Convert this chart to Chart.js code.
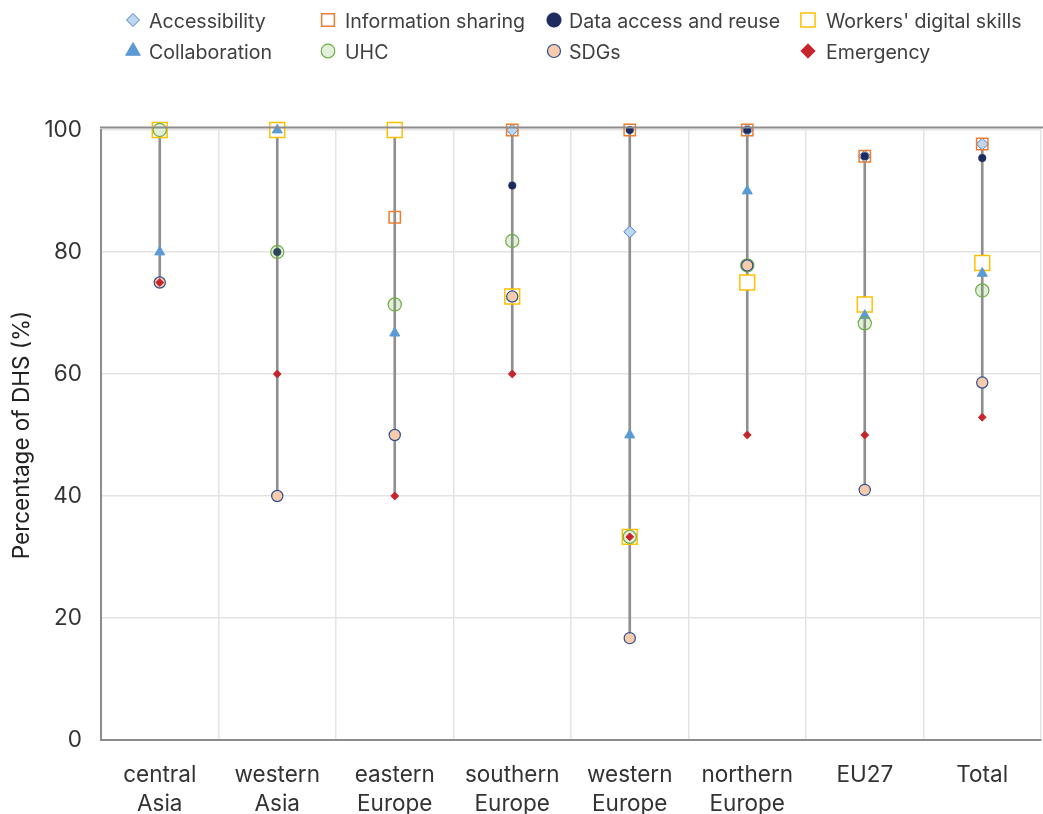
<!DOCTYPE html>
<html>
<head>
<meta charset="utf-8">
<script src="https://cdn.jsdelivr.net/npm/chart.js@4/dist/chart.umd.min.js"></script>
<style>
  html, body { margin: 0; padding: 0; background: #fff; }
  canvas { display: block; }
</style>
</head>
<body>
<canvas id="chart" width="1043" height="814"></canvas>
<script>
// Regions (multi-line category labels)
const regions = [
  ['central', 'Asia'], ['western', 'Asia'], ['eastern', 'Europe'], ['southern', 'Europe'],
  ['western', 'Europe'], ['northern', 'Europe'], ['EU27'], ['Total']
];

// Share of digital health strategies (%) addressing each topic, per region
const accessibility      = [100, 100, 100, 100, 83.3, 100, 95.7, 97.7];
const informationSharing = [100, 100, 85.7, 100, 100, 100, 95.7, 97.7];
const dataAccessReuse    = [100, 80, 100, 90.9, 100, 100, 95.7, 95.4];
const workersSkills      = [100, 100, 100, 72.7, 33.3, 75, 71.4, 78.2];
const collaboration      = [80, 100, 66.7, 72.7, 50, 90, 69.6, 76.5];
const uhc                = [100, 80, 71.4, 81.8, 33.3, 77.8, 68.3, 73.7];
const sdgs               = [75, 40, 50, 72.7, 16.7, 77.8, 41.0, 58.6];
const emergency          = [75, 60, 40, 60, 33.3, 50, 50, 52.9];

const yTicks = [0, 20, 40, 60, 80, 100];

// Marker look for each topic
const topics = [
  { label: 'Accessibility', data: accessibility, style: 'rectRot', r: 6, lr: 6.5, fill: '#bdd7ee', stroke: '#4a7dc9', bw: 1 },
  { label: 'Information sharing', data: informationSharing, style: 'rect', r: 8, lr: 9, fill: 'rgba(0,0,0,0)', stroke: '#ed7d31', bw: 1.5 },
  { label: 'Data access and reuse', data: dataAccessReuse, style: 'circle', r: 3.8, lr: 7.3, fill: '#1e2b5e', stroke: '#1e2b5e', bw: 0.5 },
  { label: "Workers' digital skills", data: workersSkills, style: 'rect', r: 10.5, lr: 10, fill: '#ffffff', stroke: '#ffc000', bw: 1.5 },
  { label: 'Collaboration', data: collaboration, style: 'triangle', r: 5.8, lr: 8.5, fill: '#5b9bd5', stroke: '#5b9bd5', bw: 1 },
  { label: 'UHC', data: uhc, style: 'circle', r: 6.6, lr: 6.8, fill: 'rgba(112,173,71,0.2)', stroke: '#70ad47', bw: 1.2 },
  { label: 'SDGs', data: sdgs, style: 'circle', r: 5.6, lr: 6.5, fill: '#f8cbad', stroke: '#2f4f8f', bw: 1.2 },
  { label: 'Emergency', data: emergency, style: 'rectRot', r: 3.9, lr: 7.2, fill: '#c7252d', stroke: '#c7252d', bw: 1 }
];

// Vertical span from the lowest to the highest topic share in each region
const ranges = regions.map((_, i) => {
  const vals = topics.map(t => t.data[i]);
  return [Math.min(...vals), Math.max(...vals)];
});

const pointSets = topics.map((t, i) => ({
  type: 'line',
  label: t.label,
  data: t.data,
  showLine: false,
  clip: false,
  order: 20 - i,               // later topics are painted over earlier ones
  pointStyle: t.style,
  pointRadius: t.r,
  pointHoverRadius: t.r,
  pointBackgroundColor: t.fill,
  pointBorderColor: t.stroke,
  pointBorderWidth: t.bw,
  backgroundColor: t.fill,
  borderColor: t.stroke
}));

const FONT = 'Inter, "Noto Sans", "DejaVu Sans", sans-serif';

// Two-row legend laid out on a fixed column grid
const legendGrid = {
  id: 'legendGrid',
  afterDraw(chart) {
    const ctx = chart.ctx;
    const iconX = [133, 328, 554, 808];
    const textX = [149, 345, 569, 826];
    const iconY = [20, 51];
    const textY = [22, 53];
    ctx.save();
    topics.forEach((t, i) => {
      const row = Math.floor(i / 4), col = i % 4;
      ctx.fillStyle = t.fill;
      ctx.strokeStyle = t.stroke;
      ctx.lineWidth = t.bw;
      Chart.helpers.drawPoint(ctx, { pointStyle: t.style, radius: t.lr, rotation: 0, borderWidth: t.bw },
        iconX[col], iconY[row]);
      ctx.fillStyle = '#404040';
      ctx.font = '19.6px ' + FONT;
      ctx.textAlign = 'left';
      ctx.textBaseline = 'middle';
      ctx.fillText(t.label, textX[col], textY[row]);
    });
    ctx.restore();
  }
};

// Upper frame line of the plot area
const topFrame = {
  id: 'topFrame',
  afterDraw(chart) {
    const { ctx, chartArea } = chart;
    ctx.save();
    ctx.strokeStyle = '#8c8c8c';
    ctx.lineWidth = 2;
    ctx.beginPath();
    ctx.moveTo(chartArea.left - 1, chartArea.top - 2.5);
    ctx.lineTo(chart.width, chartArea.top - 2.5);
    ctx.stroke();
    ctx.restore();
  }
};

new Chart(document.getElementById('chart'), {
  type: 'bar',
  data: {
    labels: regions,
    datasets: [
      {
        type: 'bar',
        label: 'range',
        data: ranges,
        order: 100,
        barThickness: 2,
        backgroundColor: '#8f8f8f',
        borderWidth: 0
      },
      ...pointSets
    ]
  },
  options: {
    responsive: false,
    animation: false,
    events: [],
    layout: { autoPadding: false, padding: { top: 130, right: 2, bottom: 0, left: 0 } },
    plugins: {
      legend: { display: false },
      tooltip: { enabled: false }
    },
    scales: {
      x: {
        type: 'category',
        offset: true,
        grid: { offset: true, color: '#e3e3e3', lineWidth: 1.5, drawTicks: false },
        border: { color: '#8c8c8c', width: 2 },
        ticks: {
          color: '#333',
          padding: 21,
          maxRotation: 0,
          font: { family: FONT, size: 22.5, lineHeight: 1.29 }
        },
        afterFit(scale) {
          scale.height = 74;
          scale.paddingLeft = 0;
          scale.paddingRight = 0;
        }
      },
      y: {
        min: 0,
        max: 100,
        afterBuildTicks(scale) { scale.ticks = yTicks.map(v => ({ value: v })); },
        grid: { color: '#e3e3e3', lineWidth: 1.5, drawTicks: false },
        border: { color: '#8c8c8c', width: 2 },
        ticks: {
          color: '#333',
          padding: 19,
          font: { family: FONT, size: 22.5 }
        },
        title: {
          display: true,
          text: 'Percentage of DHS (%)',
          color: '#222',
          padding: { top: 9, bottom: 0 },
          font: { family: FONT, size: 22.5 }
        },
        afterFit(scale) {
          scale.width = 101;
          scale.paddingTop = 0;
          scale.paddingBottom = 0;
        }
      }
    }
  },
  plugins: [legendGrid, topFrame]
});
</script>
</body>
</html>
